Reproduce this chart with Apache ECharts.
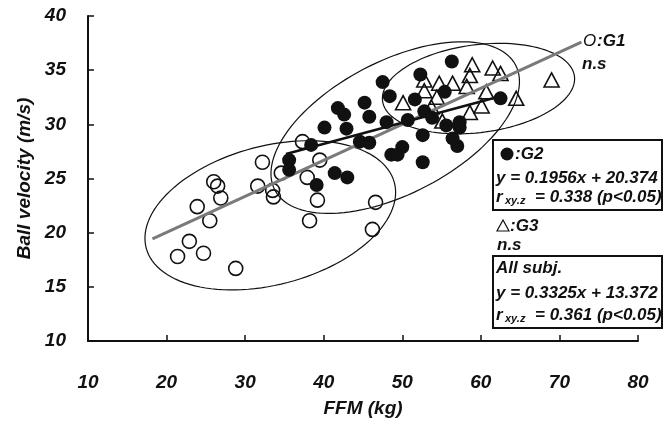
<!DOCTYPE html>
<html>
<head>
<meta charset="utf-8">
<script src="https://cdn.jsdelivr.net/npm/echarts@6/dist/echarts.min.js"></script>
<style>
  html, body { margin: 0; padding: 0; background: #fff; }
  #chart { width: 664px; height: 424px; }
</style>
</head>
<body>
<div id="chart"></div>
<script>
// G1 (open circles)
const g1X = [21.4, 22.9, 24.7, 28.8, 23.9, 25.5, 26.0, 26.5, 26.9, 31.6, 32.2, 33.5, 33.6, 37.3, 39.5, 37.9, 39.2, 38.2, 46.6, 46.2, 34.6];
const g1Y = [17.8, 19.2, 18.1, 16.7, 22.4, 21.1, 24.7, 24.3, 23.2, 24.3, 26.5, 23.9, 23.3, 28.4, 26.7, 25.1, 23.0, 21.1, 22.8, 20.3, 25.5];
// G2 (filled circles)
const g2X = [56.3, 52.3, 47.5, 48.4, 51.6, 55.4, 45.2, 41.8, 42.6, 45.8, 40.1, 42.9, 48.0, 50.7, 52.8, 53.8, 55.6, 57.3, 57.3, 52.6, 56.4, 57.0, 62.5, 38.4, 44.6, 45.8, 35.6, 35.6, 48.6, 50.0, 49.4, 52.6, 41.4, 43.0, 39.1];
const g2Y = [35.8, 34.6, 33.9, 32.6, 32.3, 33.0, 32.0, 31.5, 30.9, 30.7, 29.7, 29.6, 30.2, 30.4, 31.2, 30.6, 29.9, 30.2, 29.7, 29.0, 28.7, 28.0, 32.4, 28.1, 28.4, 28.3, 26.7, 25.8, 27.2, 27.9, 27.2, 26.5, 25.5, 25.1, 24.4];
// G3 (open triangles)
const g3X = [50.1, 52.8, 52.8, 54.7, 56.4, 54.4, 53.7, 55.1, 58.2, 58.6, 58.9, 61.5, 62.5, 60.7, 60.1, 58.6, 64.5, 69.0];
const g3Y = [32.0, 34.1, 33.1, 33.8, 33.8, 32.5, 31.6, 30.3, 33.5, 34.5, 35.5, 35.2, 34.7, 33.0, 31.7, 31.1, 32.4, 34.1];

// regression lines (slope, intercept as printed) and their x extent
const allFit = { slope: 0.3325, intercept: 13.372, xFrom: 18.2, xTo: 72.8 };
const g2Fit = { slope: 0.1956, intercept: 20.374, xFrom: 35.2, xTo: 62.5 };

// group ellipses: centre, end of major semi-axis, end of minor semi-axis (data units)
const ellipseCenters = [[33.2, 21.6], [49.1, 29.7], [59.7, 33.3]];
const ellipseMajorEnds = [[49.0, 24.6], [64.4, 35.5], [71.9, 34.5]];
const ellipseMinorEnds = [[35.4, 15.4], [53.1, 24.3], [60.6, 29.3]];

const xTicks = { min: 10, max: 80, step: 10 };
const yTicks = { min: 10, max: 40, step: 5 };

const FONT = '"Liberation Sans", Arial, sans-serif';
const INK = '#111';

const pairs = (xs, ys) => xs.map((x, i) => [x, ys[i]]);
const fitLine = f => [[f.xFrom, f.slope * f.xFrom + f.intercept], [f.xTo, f.slope * f.xTo + f.intercept]];
const ellipseData = ellipseCenters.map((c, i) => [c[0], c[1], ellipseMajorEnds[i][0], ellipseMajorEnds[i][1], ellipseMinorEnds[i][0], ellipseMinorEnds[i][1]]);

const bi = (size) => ({ fontFamily: FONT, fontWeight: 'bold', fontStyle: 'italic', fontSize: size, color: INK });
function txt(x, y, text, size, extra) {
  return Object.assign({
    type: 'text', x: x, y: y, z: 10,
    style: { text: text, font: 'italic bold ' + size + 'px ' + FONT, fill: INK, textVerticalAlign: 'middle' }
  }, extra || {});
}

const chart = echarts.init(document.getElementById('chart'));
chart.setOption({
  animation: false,
  grid: { left: 88, right: 26, top: 16, bottom: 83 },
  xAxis: {
    type: 'value', min: xTicks.min, max: xTicks.max, interval: xTicks.step,
    name: 'FFM (kg)', nameLocation: 'middle', nameGap: 58,
    nameTextStyle: bi(19),
    axisLine: { onZero: false, lineStyle: { color: INK, width: 2 } },
    axisTick: { inside: true, length: 6, lineStyle: { color: INK, width: 1.5 } },
    axisLabel: Object.assign({ margin: 32 }, bi(19)),
    splitLine: { show: false }
  },
  yAxis: {
    type: 'value', min: yTicks.min, max: yTicks.max, interval: yTicks.step,
    name: 'Ball velocity (m/s)', nameLocation: 'middle', nameGap: 48,
    nameTextStyle: bi(19),
    axisLine: { onZero: false, lineStyle: { color: INK, width: 2 } },
    axisTick: { inside: true, length: 6, lineStyle: { color: INK, width: 1.5 } },
    axisLabel: Object.assign({ margin: 22 }, bi(19)),
    splitLine: { show: false }
  },
  series: [
    {
      type: 'custom', data: ellipseData, silent: true, z: 1,
      encode: { x: [0, 2, 4], y: [1, 3, 5] },
      renderItem: function (params, api) {
        const c = api.coord([api.value(0), api.value(1)]);
        const p = api.coord([api.value(2), api.value(3)]);
        const q = api.coord([api.value(4), api.value(5)]);
        const pts = [];
        for (let i = 0; i < 120; i++) {
          const t = i / 120 * Math.PI * 2;
          pts.push([
            c[0] + Math.cos(t) * (p[0] - c[0]) + Math.sin(t) * (q[0] - c[0]),
            c[1] + Math.cos(t) * (p[1] - c[1]) + Math.sin(t) * (q[1] - c[1])
          ]);
        }
        return { type: 'polygon', shape: { points: pts }, style: { fill: 'none', stroke: INK, lineWidth: 1.2 } };
      }
    },
    {
      name: 'G1', type: 'scatter', data: pairs(g1X, g1Y), symbol: 'circle', symbolSize: 14, z: 3,
      itemStyle: { color: 'rgba(255,255,255,0)', borderColor: INK, borderWidth: 1.6, opacity: 1 }
    },
    {
      name: 'G3', type: 'scatter', data: pairs(g3X, g3Y), symbol: 'triangle', symbolSize: [15, 14], z: 3,
      itemStyle: { color: 'rgba(255,255,255,0)', borderColor: INK, borderWidth: 1.6, opacity: 1 }
    },
    {
      name: 'All subj. fit', type: 'line', data: fitLine(allFit), symbol: 'none', z: 4,
      lineStyle: { color: '#7a7a7a', width: 3 }
    },
    {
      name: 'G2 fit', type: 'line', data: fitLine(g2Fit), symbol: 'none', z: 4,
      lineStyle: { color: INK, width: 2.5 }
    },
    {
      name: 'G2', type: 'scatter', data: pairs(g2X, g2Y), symbol: 'circle', symbolSize: 14, z: 5,
      itemStyle: { color: INK, opacity: 1 }
    }
  ],
  graphic: [
    // G1 label
    { type: 'text', x: 583, y: 41, z: 10, style: { text: 'O', font: 'italic 17px ' + FONT, fill: INK, textVerticalAlign: 'middle' } },
    txt(597, 41, ':G1', 17),
    txt(582, 64, 'n.s', 17),
    // G2 box
    { type: 'rect', z: 9, shape: { x: 493, y: 140, width: 169, height: 70 }, style: { fill: '#fff', stroke: INK, lineWidth: 2 } },
    { type: 'circle', z: 10, shape: { cx: 507, cy: 154, r: 6.5 }, style: { fill: INK } },
    txt(515, 154, ':G2', 17),
    txt(496, 178, 'y = 0.1956x + 20.374', 17),
    txt(496, 197, 'r', 17),
    txt(505, 201, 'xy.z', 11),
    txt(535, 197, '= 0.338 (p<0.05)', 17),
    // G3 label
    { type: 'polygon', z: 10, shape: { points: [[503, 220], [497, 231], [509, 231]] }, style: { fill: 'none', stroke: INK, lineWidth: 1.2 } },
    txt(510, 226, ':G3', 17),
    txt(497, 245, 'n.s', 17),
    // All subjects box
    { type: 'rect', z: 9, shape: { x: 493, y: 256, width: 169, height: 72 }, style: { fill: '#fff', stroke: INK, lineWidth: 2 } },
    txt(496, 268, 'All subj.', 17),
    txt(496, 293, 'y = 0.3325x + 13.372', 17),
    txt(496, 315, 'r', 17),
    txt(505, 319, 'xy.z', 11),
    txt(535, 315, '= 0.361 (p<0.05)', 17)
  ]
});
</script>
</body>
</html>
